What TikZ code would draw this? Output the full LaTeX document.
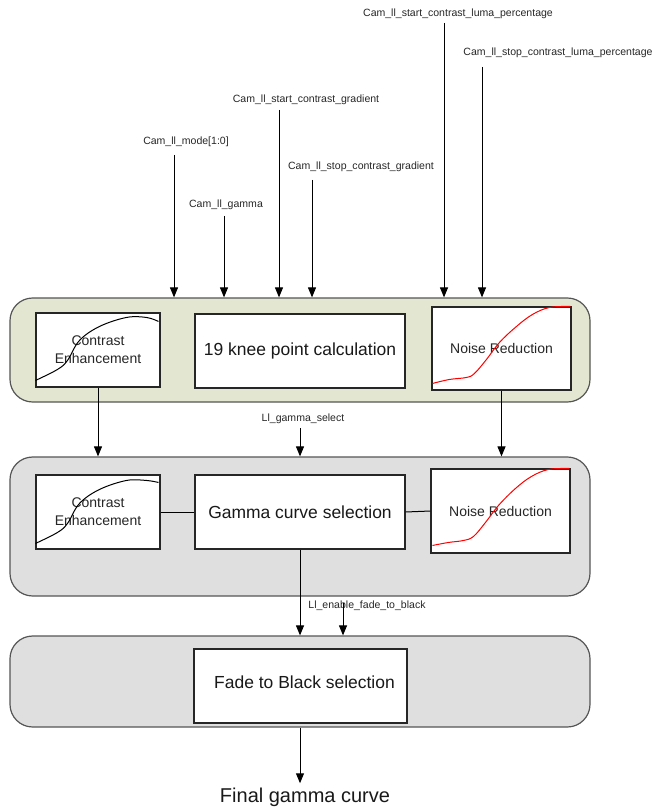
\documentclass[tikz,border=0pt]{standalone}
\usepackage{fontspec}
\setmainfont{Liberation Sans}
\usetikzlibrary{arrows.meta}
\definecolor{olivefill}{HTML}{E3E6D0}
\definecolor{greyfill}{HTML}{DFDFDF}
\definecolor{edge}{HTML}{555555}
\begin{document}
\begin{tikzpicture}[x=0.75pt,y=-0.75pt,
  cont/.style={draw=edge, line width=0.9pt, rounded corners=17pt, inner sep=0pt, minimum width=580*0.75pt},
  box/.style={draw=black!85, fill=white, line width=0.8pt, inner sep=0pt, align=center},
  lab/.style={inner sep=0pt, font=\fontsize{7.9}{9.5}\selectfont, text=black!85},
  mid/.style={font=\fontsize{10.5}{13.5}\selectfont, text=black!85},
  big/.style={font=\fontsize{13.1}{15}\selectfont, text=black!90},
  arr/.style={-{Triangle[length=7.5pt,width=6pt]}, line width=0.75pt},
  link/.style={line width=0.75pt},
  cecurve/.style={line width=0.75pt, black},
  nrcurve/.style={line width=0.75pt, red}]
\useasboundingbox (0,0) rectangle (656,809);

% containers
\node[cont, fill=olivefill, minimum height=104*0.75pt] (c1) at (300,350) {};
\node[cont, fill=greyfill, minimum height=139*0.75pt] (c2) at (300,526.5) {};
\node[cont, fill=greyfill, minimum height=91*0.75pt] (c3) at (300,681.5) {};

% row 1 boxes
\node[box, mid, minimum width=124*0.75pt, minimum height=74*0.75pt] (ce1) at (98,350) {Contrast\\Enhancement};
\node[box, big, minimum width=210*0.75pt, minimum height=74*0.75pt] (knee) at (300,351) {19 knee point calculation};
\node[box, mid, minimum width=139*0.75pt, minimum height=83*0.75pt] (nr1) at (501.5,348.5) {Noise Reduction};

% row 2 boxes
\node[box, mid, minimum width=124*0.75pt, minimum height=74*0.75pt] (ce2) at (98,512) {Contrast\\Enhancement};
\node[box, big, minimum width=210*0.75pt, minimum height=74*0.75pt] (gam) at (300,512) {Gamma curve selection};
\node[box, mid, minimum width=139*0.75pt, minimum height=84*0.75pt] (nr2) at (500.5,511) {Noise Reduction};

% row 3 box
\node[box, big, minimum width=213*0.75pt, minimum height=74*0.75pt] (fade) at (300.5,686) {\raisebox{5.2pt}{\hspace*{6pt}Fade to Black selection}};

% curves
\begin{scope}[shift={(ce1.north west)}]
  \draw[cecurve] plot[smooth, tension=0.6] coordinates {(0,68) (22,57) (32,48) (44,28) (64,14) (91,5) (111,5) (123,9)};
\end{scope}
\begin{scope}[shift={(ce2.north west)}]
  \draw[cecurve] plot[smooth, tension=0.6] coordinates {(0,69) (22,58) (32,49) (44,29) (64,15) (91,6) (111,6) (123,8)};
\end{scope}
\begin{scope}[shift={(nr1.north west)}]
  \draw[nrcurve] plot[smooth, tension=0.6] coordinates {(1,77) (18,73) (35,71) (43,67) (55,53) (68,36) (85,20) (101,8) (118,1) (139,0)};
\end{scope}
\begin{scope}[shift={(nr2.north west)}]
  \draw[nrcurve] plot[smooth, tension=0.6] coordinates {(2,77) (18,74) (33,72) (43,68) (55,54) (68,37) (85,20) (101,8) (118,1) (139,0)};
\end{scope}

% top labels
\node[lab] (lsl) at (458,14) {Cam\_ll\_start\_contrast\_luma\_percentage};
\node[lab] (lstl) at (558,53) {Cam\_ll\_stop\_contrast\_luma\_percentage};
\node[lab] (lsg) at (306,100) {Cam\_ll\_start\_contrast\_gradient};
\node[lab] (lmode) at (186,142) {Cam\_ll\_mode[1:0]};
\node[lab] (lstg) at (361,167) {Cam\_ll\_stop\_contrast\_gradient};
\node[lab] (lgamma) at (226,205) {Cam\_ll\_gamma};

\coordinate (asl) at (444,23);
\coordinate (astl) at (482,67);
\coordinate (asg) at (279,110);
\coordinate (amode) at (174,155);
\coordinate (astg) at (312,180);
\coordinate (agamma) at (224,216);
\foreach \a in {asl,astl,asg,amode,astg,agamma}
  \draw[arr] (\a) -- (\a |- c1.north);

% between row 1 and 2
\draw[arr] (ce1.south) -- (ce1.south |- c2.north);
\draw[arr] (nr1.south) -- (nr1.south |- c2.north);
\node[lab] (lgs) at (303,419) {Ll\_gamma\_select};
\coordinate (ags) at (300,428);
\draw[arr] (ags) -- (ags |- c2.north);

% row 2 links
\draw[link] (ce2.east) -- (gam.west);
\draw[link] (gam.east) -- (nr2.west);

% between row 2 and 3
\draw[arr] (gam.south) -- (gam.south |- c3.north);
\node[lab] (lef) at (367,606) {Ll\_enable\_fade\_to\_black};
\coordinate (aef) at (343,603);
\draw[arr] (aef) -- (aef |- c3.north);

% final
\node[inner sep=0pt, anchor=base, font=\fontsize{15}{18}\selectfont, text=black!90] (fin) at (305,802) {Final gamma curve};
\draw[arr, shorten >=3pt] (gam.south |- c3.south) -- (gam.south |- fin.north);
\end{tikzpicture}
\end{document}
